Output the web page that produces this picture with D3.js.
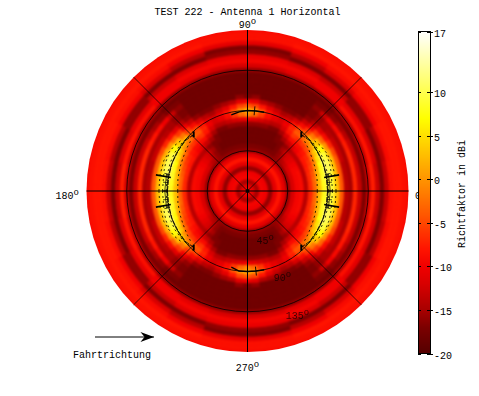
<!DOCTYPE html>
<html><head><meta charset="utf-8"><style>html,body{margin:0;padding:0;background:#fff}svg{display:block}text{font-family:"Liberation Mono","DejaVu Sans Mono",monospace;font-size:10px;fill:#000}</style>
<script src="https://cdn.jsdelivr.net/npm/d3@7"></script></head><body><script>
const titleText="TEST 222 - Antenna 1 Horizontal";
const colorbarLabel="Richtfaktor in dBi";
const arrowLabel="Fahrtrichtung";
const colorTicks=[17,10,5,0,-5,-10,-15,-20];
const colorStops=[-20,-17,-15,-12,-10,-8,-4,0,4,7,12,17];
const colorValues=["#550000","#7c0000","#a80000","#d80000","#f00000","#ff1400","#ff5800","#ff9400","#ffd000","#ffff00","#ffff80","#ffffff"];
const spokeAngles=[0,45,90,135,180,225,270,315];
const gridTheta=[45,90,135];
const azimuthRows=[0,5,10,15,20,25,30,35,40,45,50,55,60,65,70,75,80,85,90];
const thetaStep=5;
const directivity=[
[-8,-11,-15,-9.5,-10,-16,-11,-8,-11,-16,-12,-9.5,-9,-14,-7,-3,3,8,10,9,3,-4,-14,-15,-7,-13,-17,-13,-7.5,-13,-17,-13,-8.5,-8,-8,-8.5,-9],
[-8,-11,-15,-9.5,-10,-16,-11,-8,-11,-16,-12,-9.5,-9,-14,-7,-3,3,8,10,9,3,-4,-14,-15,-7,-13,-17,-13,-7.5,-13,-17,-13,-8.5,-8,-8,-8.5,-9],
[-8,-11,-15,-9.5,-10,-16,-11,-8,-11,-16,-12,-9.5,-9,-14,-7,-3,3,8.5,10.5,9,3,-4,-14,-15,-7,-13,-17,-13,-7.5,-13,-17,-13,-8.5,-8,-8,-8.5,-9],
[-8,-11,-15,-9.5,-10,-16,-11,-8,-11,-16,-12,-9.5,-9,-14,-7,-4,2,8,11,10,3,-4,-14,-15,-7,-13,-17,-14,-8,-12,-17,-14,-9,-8,-8,-8.5,-9],
[-8,-11,-15,-9.5,-10,-16,-11,-8,-11,-16,-12,-9.5,-9,-14,-7.5,-5,0,7,11,10,3,-4,-13,-15,-7,-13,-17,-14,-8,-12,-17,-14,-9,-8,-8,-8.5,-9],
[-8,-11,-15,-9.5,-10,-16,-11,-8,-11,-16,-12,-9.5,-9.5,-14,-8,-6,-2,5,10,9,2,-5,-13,-15,-7.5,-13,-17,-14,-8,-12,-17,-14,-9,-8,-8,-8.5,-9],
[-8,-11,-15,-9.5,-10,-16,-11,-8,-11,-16,-12,-10,-10,-14,-8,-7,-3,3,8,7,0,-7,-13,-15,-8,-14,-17,-15,-8.5,-11,-16,-16,-10,-8.5,-8,-8.5,-9],
[-8,-11,-15,-9.5,-10,-16,-11,-8,-11,-16,-13,-11,-11,-14,-9,-8,-5,0,5,3,-3,-9,-14,-15,-9,-15,-17,-15,-8.5,-11,-16,-16,-10,-8.5,-8,-8.5,-9],
[-8,-11,-15,-9.5,-10,-16,-11,-8,-11,-16,-14,-12,-12,-14,-10,-9,-6,-2,2,-2,-6,-11,-15,-15,-10,-16,-17,-15,-8.5,-11,-16,-16,-10,-8.5,-8,-8.5,-9],
[-8,-11,-15,-9.5,-10,-16,-11,-8,-11,-16,-15,-14,-13,-15,-12,-9,-7,-3,-3,-6,-10,-14,-16,-16,-13,-17,-18,-16,-10,-10,-13,-17,-12,-9,-8,-8.5,-9],
[-8,-11,-15,-9.5,-10,-16,-11,-8,-11,-16,-16,-16,-15,-16,-13,-9,-6,-4,-5,-9,-13,-16,-17,-17,-16,-17,-18,-16,-10,-10,-13,-17,-12,-9,-8,-8.5,-9],
[-8,-11,-15,-9.5,-10,-16,-11,-8,-11,-16,-17,-17,-17,-17,-15,-12,-8,-7,-8,-12,-16,-18,-18,-18,-18,-18,-18,-16,-10,-10,-13,-17,-12,-9,-8,-8.5,-9],
[-8,-11,-15,-9.5,-10,-16,-11,-8,-11,-16,-17,-18,-18,-17,-17,-15,-12,-10,-11,-14,-17,-18,-18,-18,-18,-18,-18,-16,-11,-9.5,-11.5,-17,-14,-10,-8,-8.5,-9],
[-8,-11,-15,-9.5,-10,-16,-11,-8,-11,-16,-17,-18,-18,-18,-18,-17,-14,-12,-12,-15,-17,-18,-18,-18,-18,-18,-18,-16,-11,-9.5,-11.5,-17,-14,-10,-8,-8.5,-9],
[-8,-11,-15,-9.5,-10,-16,-11,-8,-11,-16,-17,-18,-18,-18,-18,-17,-14,-11,-10,-13,-16,-18,-18,-18,-18,-18,-18,-16,-11,-9.5,-11.5,-17,-14,-10,-8,-8.5,-9],
[-8,-11,-15,-9.5,-10,-16,-11,-8,-11,-16,-17,-18,-18,-18,-18,-16,-13,-9,-8,-11,-15,-18,-18,-18,-18,-18,-18,-16,-12,-9.5,-10.5,-16,-17,-11,-8.5,-8.5,-9],
[-8,-11,-15,-9.5,-10,-16,-11,-8,-11,-16,-17,-18,-18,-18,-18,-16,-12,-6,-4,-8,-14,-18,-18,-18,-18,-18,-18,-16,-12,-9.5,-10.5,-16,-17,-11,-8.5,-8.5,-9],
[-8,-11,-15,-9.5,-10,-16,-11,-8,-11,-16,-17,-18,-18,-18,-18,-16,-11,-3,0,-5,-11,-16,-18,-18,-18,-18,-18,-16,-12,-9.5,-10.5,-16,-17,-11,-8.5,-8.5,-9],
[-8,-11,-15,-9.5,-10,-16,-11,-8,-11,-16,-17,-18,-18,-18,-18,-16,-10,-1,2,-4,-10,-17,-18,-18,-18,-18,-18,-16,-12,-9.5,-10.5,-16,-17,-11,-8.5,-8.5,-9]
];
const contourMain=[[0,89.5],[10,89.5],[20,90],[25,89.5],[30,89.5],[39,89.5],[47,87]];
const contourDashed=[
[[0,78],[10,79],[20,80],[27,81],[35,83],[42,85]],
[[0,95],[8,95],[14,96],[20,97],[25,97]],
[[0,99],[10,99.5],[20,99.5],[26,98],[32,96],[38,93]],
[[0,91],[12,91.5],[20,92],[28,92],[36,91],[44,89]]
];
const contourBox=[[[12,89],[12,95]],[[6,89],[6,95]],[[0,89],[0,95]],[[0,92.5],[12,92.5]]];
const contourBarb=[[10,87],[10,104]];
const contourTip=[[45,85],[48,90]];
const lobeTop=[[78,90],[84,90],[90,90],[96,89],[102,87]];
const lobeTopTick=[[85,85],[85,95]];
const lobeBottom=[[258,87],[264,90],[270,90],[276,90],[282,90]];
const lobeBottomTick=[[276,85],[276,95]];
const angleLabels=[["90",247.5,28,"middle"],["180",79,199,"end"],["270",247.5,371,"middle"],["0",415,199,"start"]];
const thetaLabels=[["45",-70,58],["90",-68,104],["135",-68,149]];

const W=479,H=396,cx=247.5,cy=191,R=161;
const rS=d3.scaleLinear().domain([0,180]).range([0,R]);
const yS=d3.scaleLinear().domain([-20,17]).range([353.5,31.5]);
const col=d3.scaleLinear().domain(colorStops).range(colorValues).clamp(true);
const toA=a=>(90-a)*Math.PI/180;
const svg=d3.select("body").append("svg").attr("width",W).attr("height",H);
const defs=svg.append("defs");
defs.append("clipPath").attr("id","disk").append("circle").attr("cx",cx).attr("cy",cy).attr("r",R);
defs.append("filter").attr("id","soft").attr("color-interpolation-filters","sRGB")
  .attr("filterUnits","userSpaceOnUse").attr("x",-R-20).attr("y",-R-20).attr("width",2*R+40).attr("height",2*R+40)
  .append("feGaussianBlur").attr("stdDeviation",1.2);
const arc=d3.arc();
const cells=[];
for(let k=0;k<72;k++){
  const az=k*5; let f=az%180; if(f>90)f=180-f;
  const row=directivity[azimuthRows.indexOf(f)];
  row.forEach((v,i)=>cells.push({az,t:i*thetaStep,v,last:i===row.length-1}));
}
const clip=svg.append("g").attr("clip-path","url(#disk)");
const heat=clip.append("g").attr("transform",`translate(${cx},${cy})`).attr("filter","url(#soft)");
heat.append("circle").attr("r",R+15).attr("fill",col(-9));
heat.selectAll("path").data(cells.slice().sort((a,b)=>b.t-a.t)).join("path")
  .attr("fill",d=>col(d.v)).attr("stroke",d=>col(d.v)).attr("stroke-width",.6)
  .attr("d",d=>arc({innerRadius:Math.max(0,rS(d.t-thetaStep/2)),
    outerRadius:rS(d.t+(d.last?14:thetaStep/2)),
    startAngle:toA(d.az+2.5),endAngle:toA(d.az-2.5)}));

const g=svg.append("g").attr("transform",`translate(${cx},${cy})`);
g.selectAll("circle.grid").data(gridTheta).join("circle").attr("r",d=>rS(d))
  .attr("fill","none").attr("stroke","#000").attr("stroke-width",.8);
g.selectAll("line.spoke").data(spokeAngles).join("line")
  .attr("x1",0).attr("y1",0)
  .attr("x2",d=>rS(180)*Math.cos(d*Math.PI/180)).attr("y2",d=>-rS(180)*Math.sin(d*Math.PI/180))
  .attr("stroke","#000").attr("stroke-width",d=>d%90===0?1:.7);
g.append("circle").attr("r",2).attr("fill","#000");

const line=d3.lineRadial().angle(d=>toA(d[0])).radius(d=>rS(d[1]));
const mirrors=[d=>d,d=>[180-d[0],d[1]],d=>[-d[0],d[1]],d=>[180+d[0],d[1]]];
function trace(pts,w,dash){
  mirrors.forEach(m=>{
    g.append("path").attr("d",line(pts.map(m))).attr("fill","none").attr("stroke","#000")
      .attr("stroke-width",w).attr("stroke-dasharray",dash||null);
  });
}
trace(contourMain,.9,"5 1");
contourDashed.forEach(c=>trace(c,.8,"2 3"));
contourBox.forEach(c=>trace(c,.7));
trace(contourBarb,1.6);
trace(contourTip,2);
[[lobeTop,1.4],[lobeTopTick,.9],[lobeBottom,1.4],[lobeBottomTick,.9]].forEach(([p,w])=>{
  g.append("path").attr("d",line(p)).attr("fill","none").attr("stroke","#000").attr("stroke-width",w);
});

function degText(sel,x,y,s,anchor,op){
  const t=sel.append("text").attr("x",x).attr("y",y).attr("text-anchor",anchor).attr("opacity",op||1);
  t.append("tspan").text(s);
  t.append("tspan").attr("dy",-4).attr("font-size",9).text("o");
  return t;
}
svg.append("text").attr("x",247.5).attr("y",15).attr("text-anchor","middle").text(titleText);
angleLabels.forEach(([s,x,y,a])=>degText(svg,x,y,s,a));
thetaLabels.forEach(([s,a,th])=>{
  const r=rS(th),x=cx+r*Math.cos(a*Math.PI/180),y=cy-r*Math.sin(a*Math.PI/180);
  degText(svg,x,y+4,s,"middle",.7);
});

// colour bar
const bar=svg.append("g").attr("shape-rendering","crispEdges");
const barRows=d3.range(Math.floor(yS(17)),Math.ceil(yS(-20)));
bar.selectAll("rect").data(barRows).join("rect").attr("x",418).attr("width",12)
  .attr("y",d=>d).attr("height",1).attr("fill",d=>col(yS.invert(d+.5)));
bar.append("rect").attr("x",418).attr("y",yS(17)).attr("width",12).attr("height",yS(-20)-yS(17))
  .attr("fill","none").attr("stroke","#000");
colorTicks.forEach(v=>{
  const y=Math.round(yS(v))+.5;
  bar.append("line").attr("x1",418).attr("x2",421).attr("y1",y).attr("y2",y).attr("stroke","#000");
  bar.append("line").attr("x1",427).attr("x2",433).attr("y1",y).attr("y2",y).attr("stroke","#000");
  bar.append("text").attr("x",434).attr("y",y+4).text(v);
});
svg.append("text").attr("transform","translate(465,194) rotate(-90)").attr("text-anchor","middle").text(colorbarLabel);

// travel direction arrow
const ax=d3.scaleLinear().domain([0,1]).range([95,154]);
const arrY=337;
svg.append("line").attr("x1",ax(0)).attr("x2",ax(1)).attr("y1",arrY).attr("y2",arrY).attr("stroke","#000");
svg.append("path").attr("d",d3.line()([[ax(.77),arrY-5],[ax(1),arrY],[ax(.77),arrY+5],[ax(.84),arrY]])).attr("fill","#000");
svg.append("text").attr("x",73).attr("y",358).text(arrowLabel);
</script></body></html>
